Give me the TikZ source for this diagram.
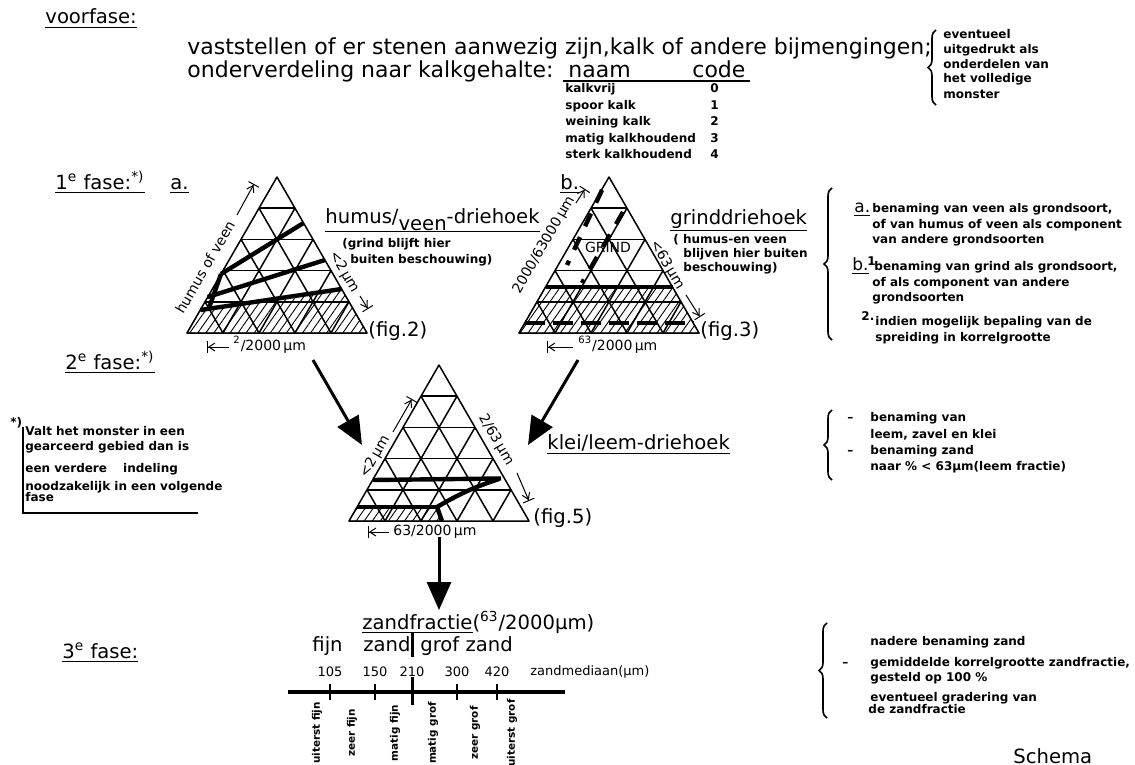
\documentclass[tikz,border=0pt]{standalone}
\usepackage{fontspec}
\setmainfont{DejaVu Sans}
\usetikzlibrary{arrows.meta,patterns.meta,decorations.pathreplacing}
\tikzset{
    LT/.style ={inner sep=0pt,anchor=base west,font=\fontsize{11}{13}\selectfont},
    BT/.style ={inner sep=0pt,anchor=base west,font=\fontsize{9.8}{12}\selectfont},
    AB/.style ={inner sep=0pt,anchor=base west,font=\fontsize{8.5}{10}\selectfont},
    MT/.style ={inner sep=0pt,font=\fontsize{7}{8}\selectfont},
    NT/.style ={inner sep=0pt,font=\fontsize{6.5}{8}\selectfont},
    ST/.style ={inner sep=0pt,anchor=base west,font=\fontsize{6}{7}\selectfont\bfseries},
    VT/.style ={inner sep=0pt,rotate=90,font=\fontsize{5.2}{6}\selectfont\bfseries},
    TR/.style ={line width=0.75pt,line join=round},
    TK/.style ={line width=2.2pt},
    HT/.style ={pattern={Lines[angle=55,distance=3.3pt,line width=0.45pt]}},
    AX/.style ={line width=0.5pt,-{Straight Barb[length=3pt,width=4pt]Bar[width=6pt]}},
    BA/.style ={line width=1.5pt,-{Triangle[length=14pt,width=12pt]}},
    BR/.style ={line width=0.8pt,decorate,decoration={brace,amplitude=4pt}}}
\begin{document}
\begin{tikzpicture}[x=0.5pt,y=-0.5pt]
        \useasboundingbox (0,0) rectangle (1135,765);
        \node[BT] (vf) at (45,24) {\underline{voorfase:}};
        \node[LT] (r1) at (187,55) {vaststellen of er stenen aanwezig zijn,kalk of andere bijmengingen;};
        \node[LT] (r2) at (187,78) {onderverdeling naar kalkgehalte:};
        \node[LT] (naam) at (568,78) {naam};
        \node[LT] (code) at (692,78) {code};
        \draw[line width=0.6pt] (563,81) -- (750,81);
        \foreach \c/\n/\y in {0/kalkvrij/92.5,1/spoor kalk/109.5,2/weining kalk/125.5,3/matig kalkhoudend/142.5,4/sterk kalkhoudend/158.5}{
            \node[ST] (k\c) at (565,\y) {\n};
            \node[ST] (c\c) at (710,\y) {\c};}
        \draw[BR] (936,105) -- (936,30);
        \node[ST] (e1) at (943,38.5) {eventueel};
        \node[ST] (e2) at (943,53.5) {uitgedrukt als};
        \node[ST] (e3) at (943,68.5) {onderdelen van};
        \node[ST] (e4) at (943,82.5) {het volledige};
        \node[ST] (e5) at (943,98.5) {monster};
        \node[BT] (f1) at (55,189) {\underline{1\textsuperscript{e} fase:\textsuperscript{*)}}};
        \node[BT] (fa) at (170,189) {\underline{a.}};
        \node[BT] (fb) at (560,189) {\underline{b.}};
        \node[BT] (f2) at (65,369) {\underline{2\textsuperscript{e} fase:\textsuperscript{*)}}};
        \node[BT] (f3) at (62,658) {\underline{3\textsuperscript{e} fase:}};
        % triangle a
        \begin{scope}[shift={(187,333)},yscale=-1]
            \draw[HT] (0,0) -- (180,0) -- (154.6,44) -- (13.3,23) -- cycle;
            \draw[TR] (0,0) -- (180,0) -- (90,156) -- cycle;
            \foreach \k in {1,...,4}{
                \draw[TR] (\k*18,\k*31.2) -- (180-\k*18,\k*31.2);
                \draw[TR] (\k*36,0) -- (\k*18,\k*31.2);
                \draw[TR] (\k*36,0) -- (90+\k*18,156-\k*31.2);}
            \draw[TK] (34,59) -- (116.5,110);
            \draw[TK] (20.8,36) -- (137.9,73);
            \draw[TK] (13.3,23) -- (154.6,44);
            \draw[TK] (34,59) -- (22,25);
        \end{scope}
        \node[MT,rotate=60] (la-l) at (205,267) {humus of veen};
        \coordinate (la-l1) at (237,215);
        \coordinate (la-l2) at (254,184);
        \draw[AX] (la-l1) -- (la-l2);
        \node[MT,rotate=-60] (la-r) at (344,272) {<2\,µm};
        \coordinate (la-r1) at (360,296);
        \coordinate (la-r2) at (368,309);
        \draw[AX] (la-r1) -- (la-r2);
        \node[MT,anchor=base west] (la-b) at (233,350) {\textsuperscript{2}/2000\,µm};
        \coordinate (la-b1) at (229,347);
        \coordinate (la-b2) at (207,347);
        \draw[AX] (la-b1) -- (la-b2);
        \node[BT] (fig2) at (368,336) {(fig.2)};
        \node[BT] (ta) at (325,223) {humus/\raisebox{-0.7ex}{veen}-driehoek};
        \draw[line width=0.6pt] (ta.south west) -- (ta.south east);
        \node[ST] (ta1) at (342,247.5) {(grind blijft hier};
        \node[ST] (ta2) at (350,263.5) {buiten beschouwing)};
        % triangle b
        \begin{scope}[shift={(519,333)},yscale=-1]
            \draw[HT] (0,0) -- (180,0) -- (153.5,46) -- (26.5,46) -- cycle;
            \draw[TR] (0,0) -- (180,0) -- (90,156) -- cycle;
            \foreach \k in {1,...,4}{
                \draw[TR] (\k*18,\k*31.2) -- (180-\k*18,\k*31.2);
                \draw[TR] (\k*36,0) -- (\k*18,\k*31.2);
                \draw[TR] (\k*36,0) -- (90+\k*18,156-\k*31.2);}
            \draw[TK] (26.5,46) -- (153.5,46);
            \draw[TK,dash pattern=on 10pt off 4pt] (5.8,10) -- (174.2,10);
            \draw[TK,dash pattern=on 7pt off 6pt] (83,143) -- (48,68);
            \draw[TK,dash pattern=on 7pt off 6pt] (104,121) -- (63,50);
        \end{scope}
        \node[MT] (grind) at (608,247) {GRIND};
        \node[MT,rotate=60] (lb-l) at (544,245) {2000/63000\,µm};
        \coordinate (lb-l1) at (576,203);
        \coordinate (lb-l2) at (585,189);
        \draw[AX] (lb-l1) -- (lb-l2);
        \node[MT,rotate=-60] (lb-r) at (667,265) {<63\,µm};
        \coordinate (lb-r1) at (686,295);
        \coordinate (lb-r2) at (700,317);
        \draw[AX] (lb-r1) -- (lb-r2);
        \node[MT,anchor=base west] (lb-b) at (578,350) {\textsuperscript{63}/2000\,µm};
        \coordinate (lb-b1) at (573,347);
        \coordinate (lb-b2) at (547,347);
        \draw[AX] (lb-b1) -- (lb-b2);
        \node[BT] (fig3) at (700,336) {(fig.3)};
        \node[BT] (tb) at (670,224) {\underline{grinddriehoek}};
        \node[ST] (tb1) at (673,243.5) {( humus-en veen};
        \node[ST] (tb2) at (683,257) {blijven hier buiten};
        \node[ST] (tb3) at (683,271) {beschouwing)};
        % notes 1e fase
        \draw[BR] (832,340) -- (832,188);
        \node[AB] (na) at (854,212.5) {\underline{a.}};
        \node[ST] (na1) at (872,212.5) {benaming van veen als grondsoort,};
        \node[ST] (na2) at (872,228.5) {of van humus of veen als component};
        \node[ST] (na3) at (872,243.5) {van andere grondsoorten};
        \node[AB] (nb) at (852,270.5) {\underline{b.}};
        \node[ST] (nb0) at (867,265) {1};
        \node[ST] (nb1) at (874,270.5) {benaming van grind als grondsoort,};
        \node[ST] (nb2) at (872,286.5) {of als component van andere};
        \node[ST] (nb3) at (872,301.5) {grondsoorten};
        \node[ST] (nc0) at (861,320) {2.};
        \node[ST] (nc1) at (875,325.5) {indien mogelijk bepaling van de};
        \node[ST] (nc2) at (875,341.5) {spreiding in korrelgrootte};
        % left note
        \node[ST] (st) at (10,426) {*)};
        \node[ST] (s1) at (25,435.5) {Valt het monster in een};
        \node[ST] (s2) at (25,450.5) {gearceerd gebied dan is};
        \node[ST] (s3) at (25,472.5) {een verdere \quad indeling};
        \node[ST] (s4) at (25,490.5) {noodzakelijk in een volgende};
        \node[ST] (s5) at (25,501.5) {fase};
        \draw[line width=0.8pt] (23,427) -- (23,513) -- (198,513);
        % triangle c
        \begin{scope}[shift={(349,521)},yscale=-1]
            \draw[HT] (0,0) -- (93,0) -- (88,14) -- (8.1,14) -- cycle;
            \draw[TR] (0,0) -- (180,0) -- (90,156) -- cycle;
            \foreach \k in {1,...,4}{
                \draw[TR] (\k*18,\k*31.2) -- (180-\k*18,\k*31.2);
                \draw[TR] (\k*36,0) -- (\k*18,\k*31.2);
                \draw[TR] (\k*36,0) -- (90+\k*18,156-\k*31.2);}
            \draw[TK] (23.7,41) -- (152,42.5);
            \draw[TK] (150,42) to[bend left=6] (88,14) -- (93,0);
            \draw[TK] (8.1,14) -- (88,14);
        \end{scope}
        \node[MT,rotate=60] (lc-l) at (375,457) {<2\,µm};
        \coordinate (lc-l1) at (393,432);
        \coordinate (lc-l2) at (412,399);
        \draw[AX] (lc-l1) -- (lc-l2);
        \node[MT,rotate=-60] (lc-r) at (496,440) {2/63\,µm};
        \coordinate (lc-r1) at (517,473);
        \coordinate (lc-r2) at (529,501);
        \draw[AX] (lc-r1) -- (lc-r2);
        \node[MT,anchor=base west] (lc-b) at (393,535) {63/2000\,µm};
        \coordinate (lc-b1) at (389,532);
        \coordinate (lc-b2) at (368,532);
        \draw[AX] (lc-b1) -- (lc-b2);
        \node[BT] (fig5) at (533,523) {(fig.5)};
        \node[BT] (tc) at (547,449) {\underline{klei/leem-driehoek}};
        % big arrows
        \coordinate (a-out) at (313,360);
        \coordinate (c-inl) at (362,445);
        \coordinate (b-out) at (578,360);
        \coordinate (c-inr) at (528,445);
        \coordinate (c-out) at (439,537);
        \coordinate (z-in) at (439,610);
        \draw[BA] (a-out) -- (c-inl);
        \draw[BA] (b-out) -- (c-inr);
        \draw[BA] (c-out) -- (z-in);
        % notes 2e fase
        \draw[BR] (832,480) -- (832,410);
        \node[ST] (m0) at (847,421.5) {--};
        \node[ST] (m1) at (870,421.5) {benaming van};
        \node[ST] (m2) at (870,438.5) {leem, zavel en klei};
        \node[ST] (m3) at (847,454.5) {--};
        \node[ST] (m4) at (870,454.5) {benaming zand};
        \node[ST] (m5) at (870,470.5) {naar \% < 63µm(leem fractie)};
        % 3e fase
        \node[BT] (zf) at (362,629) {\underline{zandfractie}(\textsuperscript{63}/2000µm)};
        \node[BT] (fij) at (312,651) {fijn};
        \node[BT] (zan) at (363,651) {zand};
        \node[BT] (gro) at (420,651) {grof zand};
        \draw[line width=1.5pt] (412,633) -- (412,657);
        \draw[line width=2.2pt] (288,692) -- (565,692);
        \foreach \x/\v in {330/105,375/150,457/300,497/420}{
            \node[NT] (t\v) at (\x,672) {\v};
            \draw[line width=0.9pt] (\x,684) -- (\x,700);}
        \node[NT] (t210) at (412,672) {210};
        \draw[line width=1.5pt] (412,677) -- (412,705);
        \node[NT,anchor=west] (zm) at (530,672) {zandmediaan(µm)};
        \foreach \x/\t [count=\i] in {317/uiterst fijn,352/zeer fijn,395/matig fijn,433/matig grof,475/zeer grof,512/uiterst grof}
            \node[VT] (u\i) at (\x,733) {\t};
        \draw[BR] (827,718) -- (827,623);
        \node[ST] (z1) at (870,645.5) {nadere benaming zand};
        \node[ST] (z0) at (842,666.5) {--};
        \node[ST] (z2) at (870,666.5) {gemiddelde korrelgrootte zandfractie,};
        \node[ST] (z3) at (870,681.5) {gesteld op 100 \%};
        \node[ST] (z4) at (870,701.5) {eventueel gradering van};
        \node[ST] (z5) at (868,713.5) {de zandfractie};
        \node[BT] (sch) at (1013,763) {Schema};
    \end{tikzpicture}
\end{document}
